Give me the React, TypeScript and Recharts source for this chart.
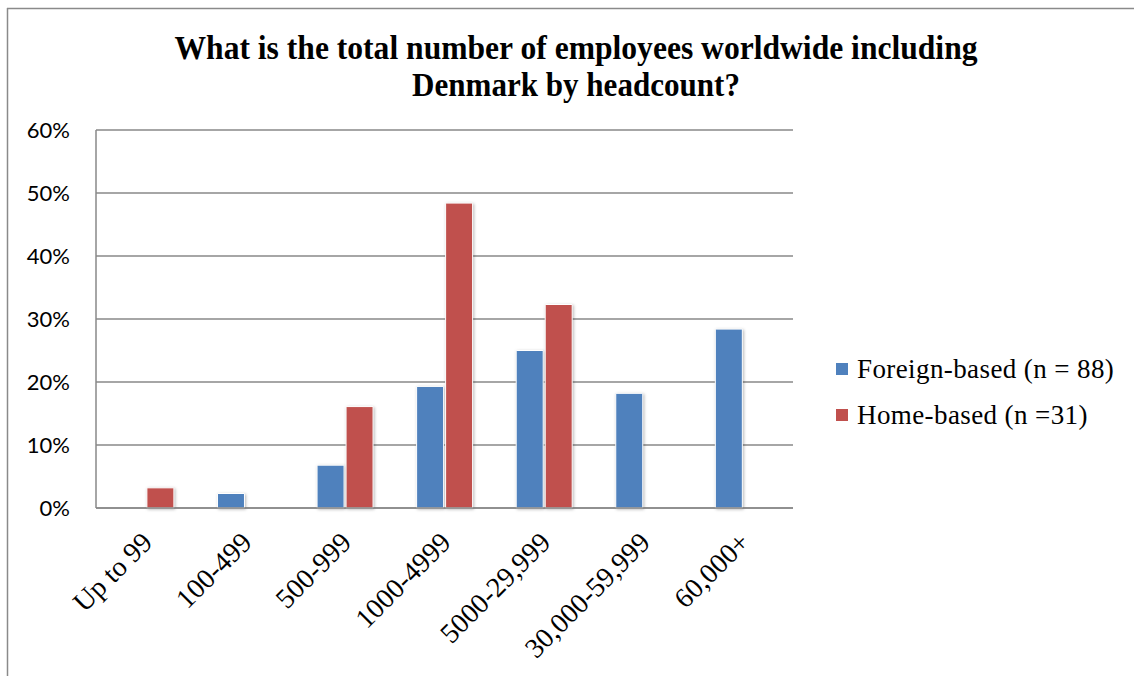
import { BarChart, Bar, XAxis, YAxis, CartesianGrid } from "recharts";

const categories = ["Up to 99", "100-499", "500-999", "1000-4999", "5000-29,999", "30,000-59,999", "60,000+"];
const foreignBased = [0, 2.3, 6.8, 19.3, 25.0, 18.2, 28.4];
const homeBased = [3.2, 0, 16.1, 48.4, 32.3, 0, 0];
const yTicks = [0, 10, 20, 30, 40, 50, 60];
const titleLines = ["What is the total number of employees worldwide including", "Denmark by headcount?"];
const seriesNames = ["Foreign-based (n = 88)", "Home-based (n =31)"];

const BLUE = "#4F81BD";
const RED = "#C0504D";
const GRID = "#888888";
const SERIF = "'Liberation Serif', 'DejaVu Serif', serif";

const data = categories.map((c, i) => ({ name: c, foreign: foreignBased[i], home: homeBased[i] }));

function XTick(props: any) {
    const { x, y, payload } = props;
    const ax = x + 8;
    const ay = y + 34;
    return (
        <text
            x={ax}
            y={ay}
            textAnchor="end"
            transform={`rotate(-45, ${ax}, ${ay})`}
            fontFamily={SERIF}
            fontSize={28}
            fill="#000"
        >
            {payload.value}
        </text>
    );
}

export default function App() {
    const colors = [BLUE, RED];
    return (
        <div style={{ position: "absolute", left: 0, top: 0, width: 1134, height: 676, background: "#fff" }}>
            <style>{`.recharts-bar-rectangle path { filter: drop-shadow(1px 1px 1.5px rgba(0,0,0,0.28)); }`}</style>
            <svg width={1134} height={676} style={{ position: "absolute", left: 0, top: 0 }}>
                <line x1={7.5} y1={8} x2={7.5} y2={676} stroke="#8a8a8a" strokeWidth={1.5} />
                <line x1={7} y1={8.5} x2={1134} y2={8.5} stroke="#8a8a8a" strokeWidth={1.5} />
                <text x={576} y={59} textAnchor="middle" fontFamily={SERIF} fontWeight="bold" fontSize={33} textLength={803} lengthAdjust="spacingAndGlyphs">
                    {titleLines[0]}
                </text>
                <text x={576} y={96} textAnchor="middle" fontFamily={SERIF} fontWeight="bold" fontSize={33} textLength={328} lengthAdjust="spacingAndGlyphs">
                    {titleLines[1]}
                </text>
            </svg>
            <div style={{ position: "absolute", left: 0, top: 0 }}>
                <BarChart
                    width={1134}
                    height={676}
                    data={data}
                    margin={{ top: 130, right: 341, bottom: 0, left: 36 }}
                    barCategoryGap="22%"
                    barGap={2}
                >
                    <CartesianGrid vertical={false} stroke={GRID} strokeWidth={1.5} />
                    <XAxis
                        dataKey="name"
                        interval={0}
                        tickLine={false}
                        tickSize={0}
                        axisLine={{ stroke: GRID, strokeWidth: 1.5 }}
                        tick={<XTick />}
                        height={168}
                    />
                    <YAxis
                        width={60}
                        domain={[0, 60]}
                        ticks={yTicks}
                        interval={0}
                        tickFormatter={(v: number) => `${v}%`}
                        tickLine={false}
                        tickSize={0}
                        tickMargin={26}
                        axisLine={{ stroke: GRID, strokeWidth: 1.5 }}
                        tick={{ fontFamily: "Lato, 'Open Sans', sans-serif", fontSize: 22, fill: "#000" }}
                    />
                    <Bar dataKey="foreign" fill={BLUE} stroke="#fff" strokeWidth={1} isAnimationActive={false} />
                    <Bar dataKey="home" fill={RED} stroke="#fff" strokeWidth={1} isAnimationActive={false} />
                </BarChart>
            </div>
            <div style={{ position: "absolute", left: 836, top: 346, fontFamily: SERIF, fontSize: 27, letterSpacing: 0.4, color: "#000" }}>
                {seriesNames.map((n, i) => (
                    <div key={n} style={{ display: "flex", alignItems: "center", height: 46, whiteSpace: "nowrap" }}>
                        <span style={{ width: 12, height: 12, background: colors[i], display: "inline-block", marginRight: 9 }} />
                        <span>{n}</span>
                    </div>
                ))}
            </div>
        </div>
    );
}
